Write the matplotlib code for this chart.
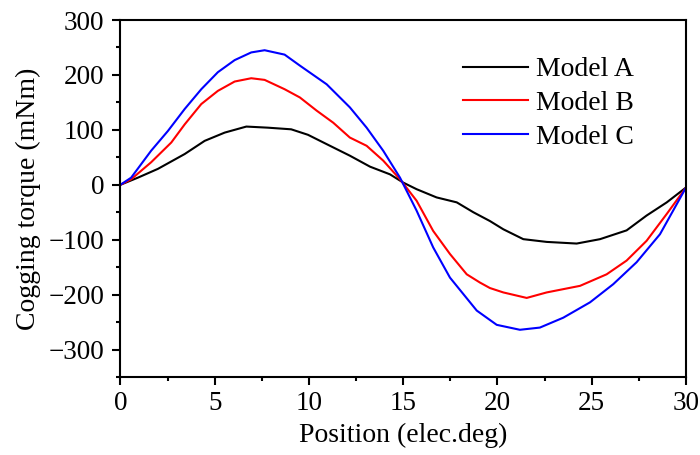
import matplotlib
matplotlib.use("Agg")
import matplotlib.pyplot as plt
from matplotlib.ticker import MultipleLocator

plt.rcParams["font.family"] = ["Liberation Serif", "DejaVu Serif"]

# Cogging torque (mNm) vs position (elec.deg)
pos_a = [0, 0.93, 1.99, 3.41, 4.47, 5.53, 6.68, 7.82, 9.06, 9.95, 10.94,
         12.17, 13.24, 14.3, 15.0, 15.71, 16.77, 17.84, 18.72, 19.6, 20.31,
         21.37, 22.61, 24.2, 25.44, 26.85, 27.91, 28.98, 30]
torque_a = [0, 13, 29, 56, 80, 95, 106, 104, 101, 91, 74,
            53, 33, 19, 4, -8, -23, -32, -50, -66, -81,
            -99, -104, -107, -99, -83, -56, -32, -5]

pos_b = [0, 0.57, 1.63, 2.7, 3.41, 4.29, 5.17, 6.06, 6.94, 7.65, 8.71,
         9.52, 10.41, 11.29, 12.17, 13.06, 13.94, 14.83, 15.71, 16.59,
         17.48, 18.37, 19.07, 19.6, 20.31, 21.55, 22.61, 24.38, 25.79,
         26.85, 27.91, 28.98, 30]
torque_b = [0, 10, 41, 77, 110, 147, 171, 188, 194, 191, 174,
            159, 135, 113, 86, 71, 44, 10, -29, -84,
            -126, -163, -178, -188, -196, -206, -196, -184, -163,
            -138, -102, -53, -5]

pos_c = [0, 0.57, 1.63, 2.52, 3.41, 4.29, 5.17, 6.06, 6.94, 7.65, 8.71,
         9.52, 10.94, 12.17, 13.06, 13.94, 14.83, 15.71, 16.59, 17.48,
         18.9, 19.96, 21.19, 22.25, 23.49, 24.91, 26.14, 27.38, 28.62, 30]
torque_c = [0, 13, 62, 98, 138, 174, 205, 227, 241, 245, 237,
            217, 183, 141, 104, 62, 13, -47, -114, -169,
            -229, -255, -264, -260, -242, -214, -181, -141, -90, -5]

labels = ["Model A", "Model B", "Model C"]
colors = ["black", "#ff0000", "#0000ff"]

fig = plt.figure(figsize=(7, 4.55), dpi=100)
ax = fig.add_axes([0.172, 0.1714, 0.808, 0.7846])

for x, y, lab, col in zip([pos_a, pos_b, pos_c], [torque_a, torque_b, torque_c], labels, colors):
    ax.plot(x, y, color=col, lw=1.5, label=lab)

ax.set_xlim(0, 30)
ax.set_ylim(-350, 300)
ax.xaxis.set_major_locator(MultipleLocator(5))
ax.xaxis.set_minor_locator(MultipleLocator(2.5))
ax.yaxis.set_major_locator(MultipleLocator(100))
ax.yaxis.set_minor_locator(MultipleLocator(50))
ax.tick_params(which="both", direction="out", top=False, right=False, width=1.5, labelsize=19.5)
ax.tick_params(which="major", length=5.8)
ax.tick_params(which="minor", length=3.2)
ax.tick_params(axis="x", pad=4)
ax.tick_params(axis="y", pad=6)
for s in ax.spines.values():
    s.set_linewidth(1.5)

ax.set_xlabel("Position (elec.deg)", fontsize=20, labelpad=5)
ax.set_ylabel("Cogging torque (mNm)", fontsize=20, labelpad=5)

ax.legend(loc="upper left", bbox_to_anchor=(0.661, 0.875), bbox_transform=fig.transFigure,
          frameon=False, fontsize=20, handlelength=2.34, handletextpad=0.3,
          labelspacing=0.3, borderpad=0, borderaxespad=0)

fig.savefig("out.png", dpi=100)
